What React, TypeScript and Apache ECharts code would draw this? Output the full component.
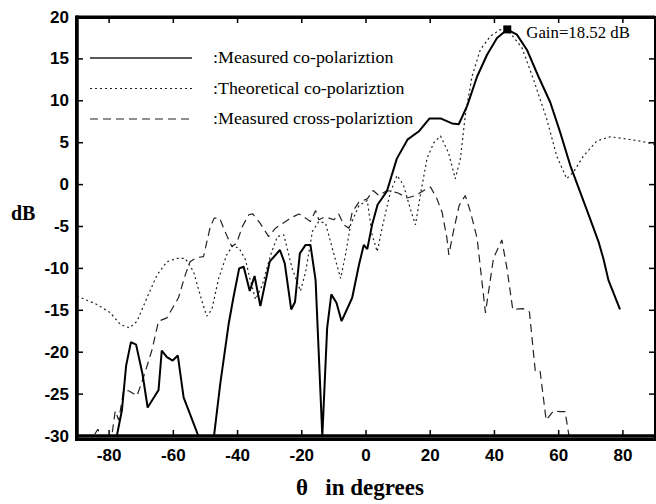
import React, { useEffect, useRef } from "react";
import * as echarts from "echarts";

// ---- data ----
const xTickValues = [-80, -60, -40, -20, 0, 20, 40, 60, 80];
const yTickValues = [-30, -25, -20, -15, -10, -5, 0, 5, 10, 15, 20];

const seriesNames = [
  "Measured co-polariztion",
  "Theoretical co-polariztion",
  "Measured cross-polariztion",
];

const measuredCoAngles = [
  -79, -77.6, -76, -74.7, -73.2, -71.6, -69.6, -68.0, -64.6, -63.6, -62.0, -60.2,
  -58.6, -56.8, -54.8, -52.5, -50, -47.3, -45.4, -42.8, -41.3, -39.5, -38.1, -36.2,
  -34.7, -32.9, -30.0, -26.8, -25.3, -23.3, -22.1, -20.6, -18.8, -17.3, -15.7, -13.6,
  -12.1, -10.8, -9.2, -7.6, -4.3, -2.2, -0.7, 0.4, 1.9, 3.6, 6.5, 9.6, 13.0, 16.6,
  19.8, 23.2, 26.8, 28.9, 31.5, 34.6, 37.7, 40.8, 44, 47.0, 50.1, 53.7, 57.4, 60.5,
  63.6, 66.7, 69.8, 72.4, 73.9, 75.5, 79.1,
];
const measuredCoDb = [
  -32, -30, -26.9, -21.6, -18.8, -19.1, -22.6, -26.6, -24.5, -19.8, -20.6, -21.0,
  -20.4, -25.4, -27.4, -29.7, -33, -29.9, -23.8, -16.7, -13.5, -10.0, -9.8, -12.7,
  -10.9, -14.5, -9.2, -7.8, -9.4, -14.9, -14.0, -8.2, -7.2, -7.2, -11.4, -30,
  -17.1, -13.1, -14.1, -16.3, -13.5, -9.6, -7.2, -7.7, -4.8, -2.4, -0.8, 3.1, 5.4, 6.4,
  7.9, 7.9, 7.3, 7.2, 9.4, 12.9, 15.5, 17.5, 18.52, 17.9, 16.1, 12.9, 9.8, 6.2,
  2.3, -0.9, -4.1, -6.8, -8.8, -11.4, -14.9,
];

const theoreticalAngles = [
  -90, -83.8, -79.6, -76.5, -73.6, -71.3, -68.2, -65.1, -62.0, -58.9, -56.3, -53.7,
  -51.1, -49.6, -48.0, -45.9, -43.4, -41.5, -39.5, -37.5, -36.3, -34.4, -32.3, -29.7,
  -27.6, -25.6, -23.0, -20.4, -18.8, -16.7, -14.7, -12.6, -10.5, -7.9, -6.4, -4.8,
  -2.2, 0.4, 1.9, 3.5, 5.0, 7.6, 9.7, 11.7, 13.8, 15.4, 16.9, 19.0, 21.1, 23.2,
  25.7, 27.8, 29.4, 30.9, 33.0, 35.6, 38.7, 41.8, 44.9, 48.6, 52.2, 56.3, 59.4,
  62.5, 64.6, 67.7, 71.9, 76.0, 80.2, 85.3, 90,
];
const theoreticalDb = [
  -13.3, -14.3, -15.3, -16.7, -17.1, -16.3, -13.5, -10.8, -9.2, -8.8, -8.8, -10.4,
  -13.9, -15.7, -14.9, -11.2, -8.4, -7.3, -7.6, -9.0, -11.0, -13.7, -12.0, -8.4,
  -6.2, -6.0, -10.0, -12.7, -10.4, -5.6, -4.4, -4.6, -7.6, -11.2, -8.4, -4.8,
  -2.5, -1.9, -6.0, -8.0, -5.2, -0.9, 1.1, -0.1, -2.9, -4.8, -1.3, 3.1, 5.0, 5.8,
  3.8, 0.7, 3.1, 8.2, 12.9, 16.1, 17.7, 18.5, 18.1, 16.3, 12.5, 7.8, 3.4,
  0.7, 1.5, 3.4, 5.2, 5.7, 5.5, 5.2, 4.8,
];

const crossAngles = [
  -87, -84.5, -83.5, -82, -79.5, -78.1, -77.0, -75.5, -73.9, -71.3, -69.3, -66.7,
  -64.6, -62.0, -58.4, -56.3, -54.8, -52.7, -50.6, -48.6, -47.3, -45.6, -43.9, -41.8,
  -40.3, -38.5, -36.5, -35.3, -33.0, -30.3, -28.2, -26.6, -25.0, -23.5, -20.9, -18.8,
  -17.3, -15.7, -14.7, -13.1, -11.5, -10.0, -8.5, -6.9, -5.3, -4.3, -2.2, 0.4, 2.2,
  4.0, 6.6, 10.0, 12.8, 15.4, 18.0, 20.1, 22.1, 23.7, 25.2, 25.8, 27.0, 29.0, 30.9,
  32.5, 34.6, 37.2, 39.7, 42.3, 43.9, 45.7, 48.9, 50.9, 52.7, 54.2, 56.1, 58.4,
  60.5, 62.0, 63.1, 64,
];
const crossDb = [
  -31, -29.8, -29.2, -30.5, -31, -27.0, -28.1, -24.6, -24.6, -25.2, -23.0, -19.8,
  -16.3, -15.9, -13.5, -10.8, -9.2, -8.7, -8.6, -5.2, -4.0, -4.0, -5.6, -7.4,
  -7.0, -5.0, -3.6, -3.5, -4.6, -6.2, -5.2, -4.8, -4.4, -4.0, -3.5, -4.0,
  -4.4, -3.1, -4.2, -3.9, -4.0, -4.2, -3.5, -4.8, -5.2, -3.3, -2.1, -1.7, -0.7,
  -1.3, -0.7, -1.0, -1.6, -1.3, -0.7, -0.3, -1.7, -3.3, -6.4, -8.4, -6.0, -2.5, -1.3,
  -3.2, -6.4, -15.3, -8.8, -6.6, -10.0, -14.9, -14.8, -15.2, -22.2, -22.2, -28.1, -27.0,
  -27.1, -27.1, -29.7, -31,
];

const gainAngle = 44;
const gainDb = 18.52;
const gainLabel = "Gain=18.52 dB";

const pairs = (xs: number[], ys: number[]) => xs.map((x, i) => [x, ys[i]]);

const SANS = "'Liberation Sans', Arial, sans-serif";
const SERIF = "'Liberation Serif', 'Times New Roman', serif";

// legend look (drawn with graphic elements)
const legendDash: (number[] | null)[] = [null, [2, 3], [8, 5]];
const legendWidth: number[] = [1.4, 1, 1];

const X_MIN = -90, X_MAX = 90, Y_MIN = -30, Y_MAX = 20;
const GRID = { left: 77, right: 1, top: 17, bottom: 65 };

export default function App() {
  const ref = useRef<HTMLDivElement>(null);

  useEffect(() => {
    if (!ref.current) return;
    const chart = echarts.init(ref.current, null, { renderer: "svg" });

    // frame + inward ticks drawn by a custom series through the axes' scales
    const frameRenderItem = (_params: any, api: any) => {
      const tl = api.coord([X_MIN, Y_MAX]);
      const br = api.coord([X_MAX, Y_MIN]);
      const xl = tl[0], yt = tl[1], xr = br[0], yb = br[1];
      const T = 6;
      const children: any[] = [];
      const L = (x1: number, y1: number, x2: number, y2: number, w: number) =>
        children.push({
          type: "line",
          shape: { x1, y1, x2, y2 },
          style: { stroke: "#000", lineWidth: w },
        });
      L(xl - 1.5, yt, xr, yt, 3);
      L(xr, yt, xr, yb, 2);
      L(xl, yt - 1.5, xl, yb + 1.75, 3.5);
      L(xl - 1.75, yb, xr + 1, yb, 3.5);
      xTickValues.forEach((v) => {
        const p = api.coord([v, Y_MIN]);
        L(p[0], yb, p[0], yb - T, 1.5);
        L(p[0], yt, p[0], yt + T, 1.5);
      });
      yTickValues.forEach((v) => {
        const p = api.coord([X_MIN, v]);
        L(xl, p[1], xl + T, p[1], 1.5);
        L(xr, p[1], xr - T, p[1], 1.5);
      });
      return { type: "group", children };
    };

    chart.setOption({
      animation: false,
      backgroundColor: "#fff",
      grid: { ...GRID },
      xAxis: {
        type: "value",
        min: X_MIN,
        max: X_MAX,
        position: "bottom",
        splitLine: { show: false },
        axisLine: { show: false },
        axisTick: { show: false },
        axisLabel: {
          customValues: xTickValues,
          margin: 11,
          fontFamily: SANS,
          fontWeight: "bold",
          fontSize: 17,
          color: "#000",
        },
        name: "θ   in degrees",
        nameLocation: "middle",
        nameGap: 40,
        nameTextStyle: {
          fontFamily: SERIF,
          fontWeight: "bold",
          fontSize: 23,
          color: "#000",
          padding: [0, 12, 0, 0],
        },
      },
      yAxis: {
        type: "value",
        min: Y_MIN,
        max: Y_MAX,
        interval: 5,
        position: "left",
        splitLine: { show: false },
        axisLine: { show: false },
        axisTick: { show: false },
        axisLabel: {
          margin: 8,
          fontFamily: SANS,
          fontWeight: "bold",
          fontSize: 17,
          color: "#000",
        },
      },
      series: [
        {
          name: seriesNames[0],
          type: "line",
          data: pairs(measuredCoAngles, measuredCoDb),
          symbol: "none",
          clip: true,
          lineStyle: { color: "#000", width: 2 },
          z: 5,
          markPoint: {
            symbol: "rect",
            symbolSize: 8,
            itemStyle: { color: "#000" },
            label: {
              show: true,
              position: "right",
              distance: 15,
              formatter: gainLabel,
              fontFamily: SERIF,
              fontSize: 16.8,
              color: "#000",
              offset: [0, 3],
            },
            data: [{ coord: [gainAngle, gainDb] }],
          },
        },
        {
          name: seriesNames[1],
          type: "line",
          data: pairs(theoreticalAngles, theoreticalDb),
          symbol: "none",
          clip: true,
          lineStyle: { color: "#222", width: 1.2, type: [2, 3] },
        },
        {
          name: seriesNames[2],
          type: "line",
          data: pairs(crossAngles, crossDb),
          symbol: "none",
          clip: true,
          lineStyle: { color: "#222", width: 1.2, type: [8, 5] },
        },
        {
          name: "frame",
          type: "custom",
          data: [[X_MIN, Y_MIN]],
          renderItem: frameRenderItem,
          clip: false,
          silent: true,
          z: 10,
        },
      ],
    });

    // legend and dB label
    const g: any[] = [];
    seriesNames.forEach((n, i) => {
      const y = 58 + i * 30.5;
      g.push({
        type: "line",
        shape: { x1: 90, y1: y, x2: 192, y2: y },
        style: {
          stroke: "#222",
          lineWidth: legendWidth[i],
          lineDash: legendDash[i] || undefined,
        },
      });
      g.push({
        type: "text",
        x: 213,
        y: y,
        scaleX: 1.12,
        style: {
          text: ":" + n,
          fontFamily: SERIF,
          fontSize: 16,
          fill: "#000",
          verticalAlign: "middle",
          align: "left",
        },
      });
    });
    g.push({
      type: "text",
      x: 11,
      y: 213,
      style: {
        text: "dB",
        fontFamily: SERIF,
        fontWeight: "bold",
        fontSize: 20,
        fill: "#000",
        verticalAlign: "middle",
      },
    });
    chart.setOption({ graphic: g });

    return () => {
      chart.dispose();
    };
  }, []);

  return (
    <>
      <div ref={ref} style={{ position: "fixed", left: 0, top: 0, width: 656, height: 504 }} />
      <div
        style={{
          position: "fixed",
          left: 75.25,
          top: 15.5,
          width: 580.75,
          height: 425.25,
          boxSizing: "border-box",
          borderStyle: "solid",
          borderColor: "#000",
          borderLeftWidth: 3.5,
          borderTopWidth: 3,
          borderRightWidth: 2,
          borderBottomWidth: 3.5,
          pointerEvents: "none",
        }}
      />
    </>
  );
}
